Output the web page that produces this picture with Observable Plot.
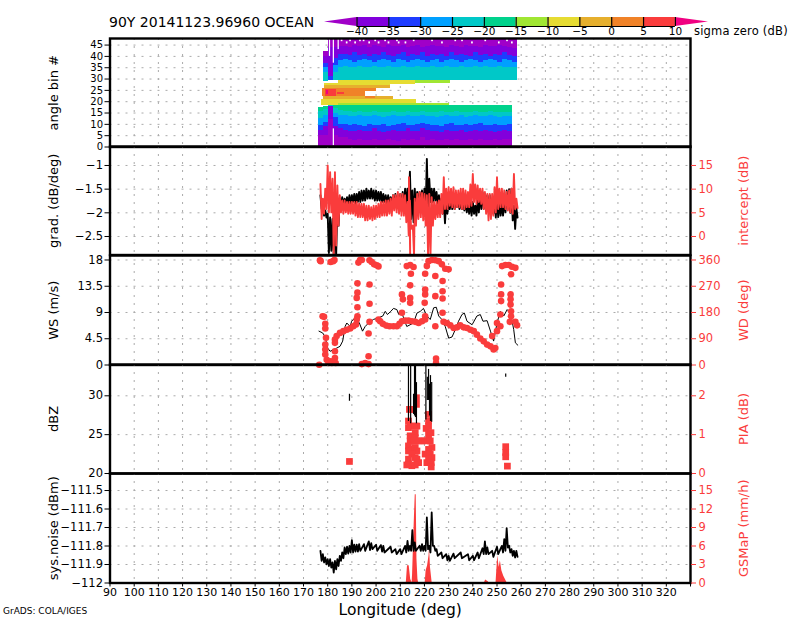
<!DOCTYPE html>
<html><head><meta charset="utf-8">
<script src="https://cdn.jsdelivr.net/npm/d3@7"></script>
<script src="https://cdn.jsdelivr.net/npm/@observablehq/plot@0.6"></script>
<style>
html,body{margin:0;padding:0;background:#fff;width:800px;height:618px;overflow:hidden}
#page{position:relative;width:800px;height:618px;font-family:"DejaVu Sans",sans-serif}
#page svg{position:absolute;left:0;background:transparent;overflow:visible}
.t{position:absolute;white-space:nowrap;color:#000}
</style></head><body><div id="page">
<div class="t" id="title" style="left:109px;top:14px;font-size:14px">90Y 20141123.96960 OCEAN</div>
<div class="t" style="left:694px;top:24px;font-size:11.5px;letter-spacing:0.2px">sigma zero (dB)</div>
<div class="t" style="left:3px;top:606px;font-size:9px">GrADS: COLA/IGES</div>
</div>
<script>
// ---------- colour bar ----------
const sigmaBreaks=[-40,-35,-30,-25,-20,-15,-10,-5,0,5,10];
const sigmaColors=["#a000c8","#8200dc","#1e3cff","#00a0ff","#00c8c8","#00d28c","#a0e632","#e6dc32","#e6af2d","#f08228","#fa3c3c","#f00082"];
const RED="#fa3c3c";

// ---------- panel 1: sigma zero by angle bin, band edges per longitude column ----------
const colLon=[176.4,178.4,180.4,182.4,184.4,186.4,188.4,190.4,192.4,194.4,
 196.4,198.4,200.4,202.4,204.4,206.4,208.4,210.4,212.4,214.4,
 216.4,218.4,220.4,222.4,224.4,226.4,228.4,230.4,232.4,234.4,
 236.4,238.4,240.4,242.4,244.4,246.4,248.4,250.4,252.4,254.4,256.4];
const lowEdge1=[5,5,12,5,4,4,3.5,3,3.5,3, 3,3.5,3,3,3.5,3,2.5,3.5,3,3.5, 3,4,3,3.5,3,3,3.5,3,3.5,3, 3,3.5,3,3.5,3,3,3.5,3,3.5,3.5, 0];
const lowEdge2=[7.5,9,18,9,8,7.5,7,7,7.5,7, 7,8,7,6.5,7,7.5,7,7,8,7, 7,8,7.5,7,7,6.5,7.5,7,7,7.5, 6.5,7,7.5,7,7.5,7,6.5,7,7.5,7, 0];
const lowEdge3=[9.5,11,18,13,10,10,9.5,10,9.5,9, 10,9.5,9.5,10,9,9.5,10,10.5,9.5,9.5, 10,10.5,10,9.5,9.5,9,10,10.5,9.5,9.5, 10,9.5,10,10.5,9.5,9.5,10,9.5,9.5,10, 0];
const lowEdge4=[12.5,14,18,15,14,14,13.5,13.5,14,13.5, 13.5,14,13.5,13,13.5,14,13.5,13.5,14,13.5, 13.5,14,13.5,13.5,13,13.5,14,13.5,13.5,14, 13,13.5,14,13.5,13.5,14,13.5,13,13.5,13.5, 0];
const lowEdge5=[15.5,16.5,18.2,17,16,15.5,15.5,15.4,15.6,15.4, 15.4,15.6,15.4,15.2,15.4,15.6,15.4,15.4,15.6,15.4, 15.4,15.6,15.4,15.2,15.4,15.6,15.4,15.4,15.6,15.4, 15.2,15.4,15.6,15.4,15.4,15.6,15.4,15.2,15.4,15.4, 0];
const lowEdge6=[17.5,18,18.3,18.3,18.3,18.3,18.3,18.3,18.3,18.3, 18.3,18.3,18.3,18.3,18.3,18.3,18.3,18.3,18.3,18.3, 18.3,18.3,18.3,18.3,18.3,18.3,18.3,18.3,18.3,18.3, 18.3,18.3,18.3,18.3,18.3,18.3,18.3,18.3,18.3,18.3, 0];
const upEdge1=[0,29,29.2,29.2,29.2,29.2,29.2,29.2,29.2,29.2, 29.2,29.2,29.2,29.2,29.2,29.2,29.2,29.2,29.2,29.2, 29.2,29.2,29.2,29.2,29.2,29.2,29.2,29.2,29.2,29.2, 29.2,29.2,29.2,29.2,29.2,29.2,29.2,29.2,29.2,29.2, 29.2];
const upEdge2=[0,33,29.2,33,35,35.5,35.2,35,35.5,35.2, 35,35.5,35.2,35,35.4,35.2,35,35.6,35.2,35, 35.4,35.2,35,35.5,35.2,35,35.4,35.2,35,35.5, 35.2,35,35.4,35.2,35.6,35,35.2,35.4,35.2,35, 35.2];
const upEdge3=[0,35,29.2,36,38,38.5,38,37.5,38,38.5, 38,37.5,38,38.5,38,37.5,38.5,38,37.5,38, 38.5,38,37.5,38,38.5,37.5,38,38.5,38,37.5, 38,38.5,38,37.5,38,38.5,38,37.5,38.5,38, 37.5];
const upEdge4=[0,37,31,39,41,41,40.5,41.5,40.5,41, 40,41,40.5,41.5,40.5,40,41,41.5,40,41, 40.5,41.5,40,41,40.5,41,40,41.5,40.5,41, 40.5,40,41.5,40.5,41,40,41,40.5,41.5,40.5, 40];
const upEdge5=[0,40,44,44,44.5,44.4,44,44.8,44.2,44.6, 44,44.6,44.4,44,44.8,44.2,44.4,44.8,44,44.4, 44.6,44,44.4,44.8,44.2,44.4,44,44.6,44.4,44, 44.8,44.2,44.4,44,44.6,44.4,44.2,44.8,44.4,44, 43.5];
const upEdge6=[0,42,47.6,47.6,47.6,47.6,47.6,47.6,47.6,47.6, 47.6,47.6,47.6,47.6,47.6,47.6,47.6,47.6,47.6,47.6, 47.6,47.6,47.6,47.6,47.6,47.6,47.6,47.6,47.6,47.6, 47.6,47.6,47.6,47.6,47.6,47.6,47.6,47.6,47.6,47.6, 47.6];
const centreLon1=[184.4,184.4,216.9,216.2,177.5,177.5,184.4,178.5,178.2,178.5,178,195.5,195.5,178.9,184,179.5];
const centreLon2=[230.3,230.7,230.3,230.7,216.9,184.4,216.2,206.1,207.2,206,195.5,199.6,200.3,183.5,187,180.5];
const centreBin1=[18.3,28,18.3,28,19.4,18.3,27.5,25.7,21,26,22.4,21.2,24.5,22.5,23,23];
const centreBin2=[19.4,29.3,19.4,29.3,21,19.4,29.3,28,22.4,27,25.7,22.4,25.7,25.5,24,25];
const centreSigma=[-12,-12,-12,-12,-7,-7,-7,-7,-2,-2,3,3,3,7,7,11];
const speckLon=[185.6,187.7,189.1,191.2,193.2,194.7,197,199.5,200.9,203.6,205,208.5,209.2,212,215.4,223,227.1,232.6,235.4,239.5,245,250.6,254,256];
const speckBin=[46.5,45.5,46.5,45.5,46.5,46.5,45.5,46.5,45.5,46.5,45.5,46.5,45.5,45.5,46.5,46.5,45.5,46.5,46.5,45.5,46.5,45.5,46.5,45.5];
const stripeLon=[182.3,182.3,180.7,184.3];
const stripeBin1=[0.5,37,40,43];
const stripeBin2=[8,47.6,47.6,47.6];

// ---------- panel 2: gradient and intercept, high/low per longitude ----------
const gradLon=[177,178,179,180,181,182,183,184,185,186,187,188,189,190,191,192,193,194,195,196,197,198,199,200,201,202,203,204,205,206,207,208,209,210,211,212,213,214,215,216,217,218,219,220,221,222,223,224,225,226,227,228,229,230,231,232,233,234,235,236,237,238,239,240,241,242,243,244,245,246,247,248,249,250,251,252,253,254,255,256,257,258];
const gradHi=[-1.63,-1.81,-1.95,-2.02,-2.1,-2.13,-2.02,-1.85,-1.7,-1.67,-1.7,-1.67,-1.63,-1.63,-1.6,-1.6,-1.56,-1.53,-1.53,-1.49,-1.53,-1.49,-1.53,-1.53,-1.56,-1.56,-1.6,-1.63,-1.63,-1.67,-1.63,-1.6,-1.63,-1.6,-1.56,-1.49,-1.49,-1.13,-1.53,-1.49,-1.56,-1.56,-1.53,-1.49,-0.86,-1.28,-1.49,-1.49,-1.56,-1.63,-1.7,-1.77,-1.74,-1.7,-1.67,-1.67,-1.7,-1.74,-1.74,-1.74,-1.77,-1.81,-1.77,-1.77,-1.85,-1.74,-1.6,-1.56,-1.6,-1.63,-1.63,-1.7,-1.74,-1.74,-1.77,-1.81,-1.7,-1.53,-1.5,-1.49,-1.85,-1.9];
const gradLo=[-1.92,-2.06,-2.1,-2.85,-2.8,-2.9,-2.9,-2.27,-1.92,-1.85,-1.81,-1.81,-1.81,-1.77,-1.81,-1.77,-1.77,-1.74,-1.74,-1.7,-1.7,-1.7,-1.74,-1.74,-1.74,-1.77,-1.77,-1.81,-1.81,-1.81,-1.85,-1.85,-1.88,-1.92,-1.95,-1.88,-1.95,-2.13,-2.2,-1.99,-1.88,-1.85,-1.92,-1.99,-1.95,-1.77,-1.77,-1.74,-1.81,-1.92,-2.02,-2.22,-2.02,-1.92,-1.92,-1.92,-1.88,-1.92,-1.92,-1.95,-1.99,-2.02,-2.06,-2.02,-2.06,-1.99,-1.92,-1.92,-1.88,-1.95,-1.99,-2.02,-2.1,-2.09,-2.06,-2.06,-1.99,-1.92,-2,-2.16,-2.34,-2.1];
const interceptLon=[177,178,179,180,181,182,183,184,185,186,187,188,189,190,191,192,193,194,195,196,197,198,199,200,201,202,203,204,205,206,207,208,209,210,211,212,213,213.6,214,215.2,216,217,218,219,220,221,222,223,224,225,226,227,228,229,230,231,232,233,234,235,236,237,238,239,240,241,242,243,244,245,246,247,248,249,250,251,252,253,254,255,256,257,258];
const interceptHi=[11.1,8,10.1,15,13.6,12.2,13.6,10.8,8.7,7.6,7.6,7.3,7.3,7.3,7.3,7.3,7,6.9,6.9,6.5,6.5,6.2,6.5,6.5,6.9,7.3,7.3,7.6,7.6,8,8.7,8.7,9.4,9,9,8.7,7.3,12.5,7.6,2.3,8,9,9.4,9.2,9,8.7,9,8.3,7.3,7.3,7.6,9,12.5,10.1,10.4,10.1,10.4,9.7,9.7,10.1,10.1,9.7,9.4,11,13.2,11,10.8,10.1,10.1,9.4,9,9,9,10.4,12.5,10.1,10.1,9.7,9.4,9.7,10.1,13.2,8];
const interceptLo=[3.7,4.8,5.8,5.1,5.1,-4,-1.9,2.3,5.1,4.8,5.1,4.8,4.8,4.8,4.4,4.1,4.1,4.1,3.4,3.4,3.7,3.4,3.7,4.1,4.1,4.4,4.4,4.4,4.8,4.4,5.5,5.1,4.8,4.4,4.4,3,0.2,-4,1.6,-4,2.3,3.7,4.1,3.4,2.3,-4,-4,2.3,3.7,4.1,4.1,4.8,5.8,5.8,6.5,6.2,5.8,6.2,6.2,5.8,5.8,6.2,6.2,6.5,7.3,6.9,7.3,6.9,5.8,4.8,3.4,3.7,4.4,5.1,5.8,6.2,6.2,5.8,5.5,5.1,4.8,5.8,6];

// ---------- panel 3: wind speed line, wind direction dots ----------
const wsLon=[176.4,177.9,178.9,180,181,182.3,183.7,185.1,186.2,187.2,187.9,189.3,189.9,191.3,193.1,194.4,195.5,196.9,198.9,201,202.8,203.8,204.7,206.1,207.2,208.6,209.4,210.7,211.6,212.7,215.5,216.9,218.3,219.6,221,222.4,223.8,224.9,225.9,227.2,228.6,230,231.4,232.8,234.1,235.5,236.5,237.6,239.7,241.7,243.1,244.2,245.9,247.3,248.6,250,251.4,252.8,254.2,255.6,256.9,257.6,258.6];
const wsVal=[5.8,5.5,4.9,2.9,2.35,2.6,2.9,3.2,4.1,6.6,7.2,6.6,7.5,8.1,7.2,5.8,6.6,7.2,7.8,8.1,8.4,9.2,8.65,9.2,9.7,9.5,8.65,8.9,7.8,6.6,7.2,8.9,9.2,9.7,8.4,7.8,9.8,9.9,8.4,7.8,6.6,4.6,4.8,6.1,7.5,8.65,8.9,7.5,6.9,8.4,8.65,7.5,7.6,5.8,4.1,7.2,9.2,8.4,9.5,8.9,6.1,3.8,3.4];
const wdLon=[177.1,176.8,181.2,182.3,182.8,192.7,193.4,194.1,197.3,198.2,199.2,200.3,201,
 192.3,192.3,192,192.3,192.3,192,191.7,190.6,189.3,187.9,186.5,185.1,183.7,183,183,
 177.9,178.5,179,179,179.3,179,179,179,179.6,181,182.3,183,183,180.3,181.7,176.5,183.3,
 197.3,197.3,197.3,196.9,196.9,194.1,195.5,196.9,
 201,201.7,202.8,204.2,205.6,207.2,208.6,209.7,210.7,212,213.4,214.8,216.2,217.6,219,220.3,
 210.7,211.1,210.7,214.1,214.1,214.1,214.4,212.7,214.1,215.5,
 220.3,220.3,220.3,220.1,220.3,221,221.7,223.1,224.5,225.9,227.2,228.6,230,
 224.5,227.5,227.5,227.5,224.5,227.5,224.5,224.8,224.8,
 227.9,229.3,230.7,232.1,233.5,234.8,236.2,237.6,239,240.4,241.7,243.1,244.5,245.9,247.3,248.6,249.3,
 248,250,250,251.4,251.7,251.7,251.7,251.4,
 252.1,253.5,254.9,256.2,257.6,255.8,255.6,255.6,255.6,255.8,255.8,255.3,257.6,258.3];
const wdDeg=[356,359,353,356,360,351,360,360,359,353,345,342,338,
 280,248,230,198,167,156,139,133,125,121,116,110,99,87,76,
 167,165,141,125,93,70,53,36,18,13,13,24,47,7,7,1,7,
 276,210,148,108,30,3,7,3,
 156,150,141,135,133,133,133,141,150,152,152,150,148,144,150,156,
 242,225,179,273,230,213,313,339,343,336,
 313,259,242,213,167,339,356,360,359,356,345,330,328,
 305,288,253,228,236,179,133,22,7,
 148,144,136,127,129,136,129,127,121,116,104,91,81,70,64,53,58,
 99,116,144,133,276,242,219,173,
 339,343,343,337,333,311,242,225,207,184,167,148,148,136];

// ---------- panel 4: reflectivity spans, path-integrated attenuation ----------
const dbzLon=[189,213.4,214.3,215.9,216.3,216.7,215.5,220.6,221.2,221.7,222.1,222.5,223,253.6];
const dbzTop=[30.2,34,34,34,34,31.7,30.2,34,32.4,33.4,31.5,32.6,31.7,32.8];
const dbzBottom=[29.3,26.7,26.4,27.4,27.2,26.4,27.6,26.9,29.4,29.4,27.4,26.7,26.6,32.4];
const piaLon=[189,253.6,253.6,253.6,254.3,213.8,214.8,213.4,214.1,213.4,216.2,216.9,216.2,214.1,216.2,214.1,215.5,217.6,213.4,214.8,216.2,213.4,216.9,214.8,213.4,216.2,216.9,217.6,213.4,214.8,216.2,212.7,216.7,216.7,219,220.7,221.7,222.7,221.7,220.3,222.4,223.1,221.7,220.3,222.4,223.1,221.7,221,222.8,222.8,221.7,221.7,221.7];
const piaVal=[0.31,0.69,0.54,0.43,0.19,1.65,1.65,1.35,1.22,1.18,1.22,1.22,1.05,0.97,0.92,0.84,0.84,0.84,0.71,0.62,0.67,0.58,0.58,0.5,0.37,0.41,0.37,0.28,0.24,0.2,0.22,0.22,1.78,1.95,0.84,1.16,1.05,1.05,0.88,0.84,0.84,0.67,0.62,0.5,0.5,0.41,0.37,0.28,0.28,0.17,1.35,1.52,1.22];

// ---------- panel 5: system noise, GSMaP rain ----------
const sysLon=[177,178,179,180,181,182,183,184,185,186,187,188,189,190,191,192,193,195,197,198,200,202,203,206,208,210,212,213,214,215,216,218,219,220,221,222,223,224,225,227,229,230,232,235,238,240,242,244,245,246,248,250,252,253,254,255,256,257,258];
const sysHi=[-111.826,-111.844,-111.862,-111.871,-111.871,-111.889,-111.88,-111.871,-111.853,-111.835,-111.808,-111.804,-111.799,-111.768,-111.793,-111.793,-111.79,-111.79,-111.775,-111.785,-111.793,-111.795,-111.799,-111.804,-111.817,-111.817,-111.799,-111.772,-111.799,-111.714,-111.781,-111.799,-111.79,-111.799,-111.645,-111.799,-111.618,-111.799,-111.817,-111.835,-111.844,-111.853,-111.841,-111.835,-111.844,-111.853,-111.835,-111.812,-111.775,-111.808,-111.826,-111.804,-111.799,-111.763,-111.703,-111.799,-111.817,-111.826,-111.826];
const sysLo=[-111.88,-111.889,-111.899,-111.908,-111.917,-111.944,-111.926,-111.908,-111.88,-111.866,-111.844,-111.841,-111.835,-111.835,-111.83,-111.83,-111.826,-111.826,-111.822,-111.817,-111.826,-111.83,-111.835,-111.835,-111.844,-111.844,-111.835,-111.826,-111.826,-111.826,-111.826,-111.826,-111.826,-111.826,-111.817,-111.835,-111.799,-111.826,-111.853,-111.866,-111.877,-111.88,-111.866,-111.866,-111.877,-111.877,-111.866,-111.844,-111.844,-111.844,-111.859,-111.844,-111.835,-111.826,-111.808,-111.835,-111.853,-111.862,-111.859];
const gsmapLon=[212.5,213,213.7,214.3,214.9,215.1,215.8,216.2,216.6,216.9,217.3,217.6,220.3,220.7,221.3,221.9,222.1,222.5,223.2,244.8,245.3,246.4,246.7,249.6,250.3,250.9,251.4,252,252.8,254.2];
const gsmapVal=[0,2.8,2.8,0.6,0,1.4,10,14.3,14.3,3.9,0.6,0,0,2,2.8,4.4,6,2.5,0,0,0.5,0.2,0,0,4.4,2.5,3.6,2,1.1,0];

// ---------- axes ----------
const xTicks=[90,100,110,120,130,140,150,160,170,180,190,200,210,220,230,240,250,260,270,280,290,300,310,320,330];
const binTicks=[0,5,10,15,20,25,30,35,40,45];
const gradTicks=[-1,-1.5,-2,-2.5];
const interceptTicks=[0,5,10,15];
const wsTicks=[0,4.5,9,13.5,18];
const wdTicks=[0,90,180,270,360];
const dbzTicks=[20,25,30];
const piaTicks=[0,1,2];
const sysTicks=[-112,-111.9,-111.8,-111.7,-111.6,-111.5];
const rainTicks=[0,3,6,9,12,15];

const page=document.getElementById("page");
const FONT="DejaVu Sans";
const minus=v=>String(v).replace("-","\u2212");
const zigzag=(lon,hi,lo)=>lon.flatMap((x,i)=>[{x,v:hi[i]},{x:x+0.5,v:lo[i]}]);

function panel(o){
  const last=!!o.last, mt=10, mb=last?36:10;
  const toLeft=o.rightDomain?d3.scaleLinear(o.rightDomain,o.leftDomain):null;
  const marks=[
    Plot.gridX(xTicks,{stroke:"#aaa",strokeOpacity:1,strokeDasharray:"2,6"}),
    Plot.gridY(o.leftTicks,{stroke:"#aaa",strokeOpacity:1,strokeDasharray:"2,6"}),
    ...o.marks(toLeft),
    Plot.frame({stroke:"#000",strokeWidth:2.4}),
    Plot.axisY(o.leftTicks,{anchor:"left",tickSize:5,tickPadding:2,tickFormat:minus,label:null,fontSize:o.tickFont||11.5}),
    Plot.text([o.leftLabel],{frameAnchor:"left",textAnchor:"middle",dx:-56,rotate:-90,fontSize:13,text:d=>d,fill:"#000",letterSpacing:"0.6px"})
  ];
  if(last){
    marks.push(Plot.axisX(xTicks,{anchor:"bottom",tickSize:4,tickPadding:1,label:null,fontSize:11,tickFormat:d=>d===330?"":String(d)}));
    marks.push(Plot.text(["Longitude (deg)"],{frameAnchor:"bottom",dy:32,text:d=>d,fontSize:15.5,letterSpacing:"0.5px",fill:"#000",textAnchor:"middle"}));
  }
  if(toLeft){
    marks.push(Plot.axisY(o.rightTicks.map(toLeft),{anchor:"right",tickSize:5,tickPadding:3,label:null,color:RED,fontSize:11.5,tickFormat:v=>minus(Math.round(toLeft.invert(v)))}));
    marks.push(Plot.text([o.rightLabel],{frameAnchor:"right",textAnchor:"middle",dx:53,rotate:-90,fontSize:13,text:d=>d,fill:RED,letterSpacing:"0.6px"}));
  }
  const svg=Plot.plot({
    width:800,height:o.bottom-o.top+mt+mb,
    marginLeft:109.5,marginRight:110,marginTop:mt,marginBottom:mb,
    style:{fontFamily:FONT,fontSize:"11.5px",background:"transparent",overflow:"visible",color:"#000"},
    x:{domain:[90,330],axis:null},
    y:{domain:o.leftDomain,axis:null},
    color:{type:"threshold",domain:sigmaBreaks,range:sigmaColors},
    marks
  });
  svg.style.top=(o.top-mt)+"px";
  page.appendChild(svg);
}

// colour bar
(function(){
  const sigmaSpan=sigmaBreaks.slice(0,-1).map((b,i)=>({a:b,b:sigmaBreaks[i+1]}));
  const bar=Plot.plot({
    width:800,height:44,marginLeft:324,marginRight:92,marginTop:17,marginBottom:18,
    style:{fontFamily:FONT,fontSize:"11px",background:"transparent",overflow:"visible"},
    x:{domain:[-45.1,15.2],axis:null},y:{domain:[0,1],axis:null},
    color:{type:"threshold",domain:sigmaBreaks,range:sigmaColors},
    marks:[
      Plot.areaY([{x:-45.1,a:.5,b:.5},{x:-40,a:0,b:1}],{x:"x",y1:"a",y2:"b",fill:sigmaColors[0]}),
      Plot.areaY([{x:10,a:0,b:1},{x:15.2,a:.5,b:.5}],{x:"x",y1:"a",y2:"b",fill:sigmaColors[11]}),
      Plot.rectY(sigmaSpan,{x1:"a",x2:"b",y1:0,y2:1,fill:d=>(d.a+d.b)/2}),
      Plot.ruleX(sigmaBreaks,{stroke:"#000",strokeWidth:1.2}),
      Plot.ruleY([0],{x1:-40,x2:10,stroke:"#000",strokeWidth:1.2}),
      Plot.axisX(sigmaBreaks,{anchor:"bottom",tickSize:0,tickPadding:1,label:null,tickFormat:minus,fontSize:10.5})
    ]
  });
  bar.style.top="0px";
  page.appendChild(bar);
})();

// panel 1
const edges=[lowEdge1,lowEdge2,lowEdge3,lowEdge4,lowEdge5,lowEdge6];
const upEdges=[upEdge1,upEdge2,upEdge3,upEdge4,upEdge5,upEdge6];
const lowSigma=[-42,-37,-32,-27,-22,-17];
const upSigma=[-22,-27,-32,-37,-42];
const cells=[];
colLon.forEach((lon,i)=>{
  edges.forEach((e,k)=>{const a=k?edges[k-1][i]:0;if(e[i]>a)cells.push({x1:lon,x2:lon+2,y1:a,y2:e[i],s:lowSigma[k]});});
  for(let k=1;k<6;k++){const a=upEdges[k-1][i],b=upEdges[k][i];if(b>a)cells.push({x1:lon,x2:lon+2,y1:a,y2:b,s:upSigma[k-1]});}
});
const centre=centreLon1.map((x1,i)=>({x1,x2:centreLon2[i],y1:centreBin1[i],y2:centreBin2[i],s:centreSigma[i]}));
const specks=speckLon.map((x,i)=>({x1:x,x2:x+0.7,y1:speckBin[i],y2:speckBin[i]+0.9}));
const stripes=stripeLon.map((x,i)=>({x1:x,x2:x+0.5,y1:stripeBin1[i],y2:stripeBin2[i]}));
panel({top:37.5,bottom:146,leftDomain:[0,47.9],leftTicks:binTicks,leftLabel:"angle bin #",tickFont:10,
  marks:()=>[
    Plot.rect(cells,{x1:"x1",x2:"x2",y1:"y1",y2:"y2",fill:"s",shapeRendering:"crispEdges"}),
    Plot.rect(centre,{x1:"x1",x2:"x2",y1:"y1",y2:"y2",fill:"s",shapeRendering:"crispEdges"}),
    Plot.rect(specks,{x1:"x1",x2:"x2",y1:"y1",y2:"y2",fill:"#fff"}),
    Plot.rect(stripes,{x1:"x1",x2:"x2",y1:"y1",y2:"y2",fill:"#fff"})
  ]});

// panel 2
panel({top:146,bottom:254.5,leftDomain:[-2.891,-0.599],leftTicks:gradTicks,leftLabel:"grad. (dB/deg)",
  rightDomain:[-3.91,19.01],rightTicks:interceptTicks,rightLabel:"intercept (dB)",
  marks:t=>[
    Plot.line(zigzag(gradLon,gradHi,gradLo),{x:"x",y:"v",stroke:"#000",strokeWidth:1.9,clip:true}),
    Plot.line(zigzag(interceptLon,interceptHi,interceptLo),{x:"x",y:d=>t(d.v),stroke:RED,strokeWidth:1.9,clip:true})
  ]});

// panel 3
panel({top:254.5,bottom:364,leftDomain:[0,18.77],leftTicks:wsTicks,leftLabel:"WS (m/s)",
  rightDomain:[0,375.4],rightTicks:wdTicks,rightLabel:"WD (deg)",
  marks:t=>[
    Plot.line(wsLon.map((x,i)=>({x,v:wsVal[i]})),{x:"x",y:"v",stroke:"#000",strokeWidth:1}),
    Plot.dot(wdLon.map((x,i)=>({x,v:wdDeg[i]})),{x:"x",y:d=>t(d.v),r:3.3,fill:RED,stroke:null})
  ]});

// panel 4
panel({top:364,bottom:473,leftDomain:[20,34.03],leftTicks:dbzTicks,leftLabel:"dBZ",
  rightDomain:[0,2.806],rightTicks:piaTicks,rightLabel:"PIA (dB)",
  marks:t=>[
    Plot.dot(piaLon.map((x,i)=>({x,v:piaVal[i]})),{x:"x",y:d=>t(d.v),symbol:"square",r:3.8,fill:RED,stroke:null}),
    Plot.ruleX(dbzLon.map((x,i)=>({x,a:dbzBottom[i],b:dbzTop[i]})),{x:"x",y1:"a",y2:"b",stroke:"#000",strokeWidth:1.2})
  ]});

// panel 5
panel({top:473,bottom:582.5,leftDomain:[-112,-111.408],leftTicks:sysTicks,leftLabel:"sys.noise (dBm)",
  rightDomain:[0,17.76],rightTicks:rainTicks,rightLabel:"GSMaP (mm/h)",last:true,
  marks:t=>[
    Plot.areaY(gsmapLon.map((x,i)=>({x,v:gsmapVal[i]})),{x:"x",y1:()=>t(0),y2:d=>t(d.v),fill:RED}),
    Plot.line(zigzag(sysLon,sysHi,sysLo),{x:"x",y:"v",stroke:"#000",strokeWidth:1.8})
  ]});
</script></body></html>
